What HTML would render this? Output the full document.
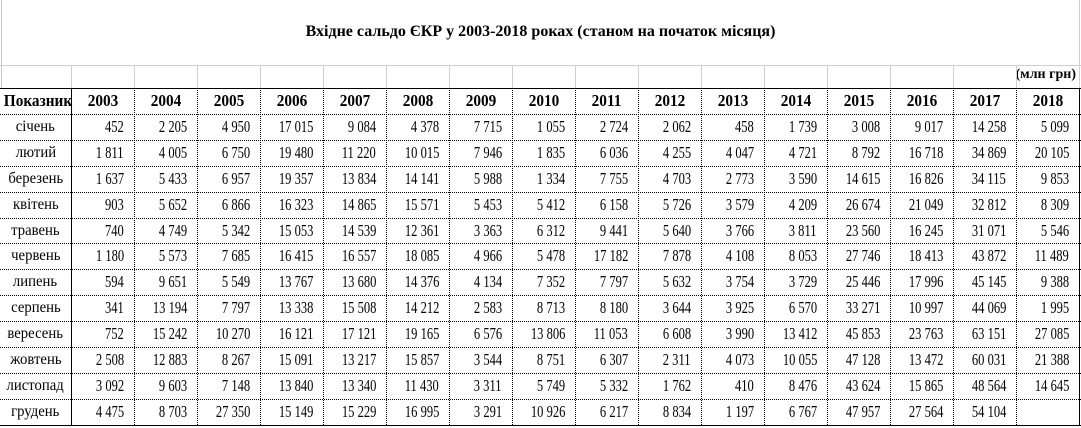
<!DOCTYPE html>
<html><head><meta charset="utf-8"><style>
body{margin:0;background:#fff;width:1081px;height:428px;overflow:hidden;position:relative;font-family:"Liberation Serif",serif;color:#000}
.c{position:absolute;box-sizing:border-box;font-size:16.5px;line-height:26px;white-space:nowrap}
.c span{display:inline-block}
.h{font-weight:bold;font-size:17px;text-align:center}
.h span{transform:scaleX(0.9)}
.n{text-align:right;padding-right:10px}
.n span{transform:scaleX(0.76);transform-origin:right center}
.m{text-align:center;font-size:16px}
.m span{transform:scaleX(0.92)}
.vl{position:absolute;width:0}
.hl{position:absolute;height:0}
</style></head><body>
<div style="position:absolute;left:0;width:1081px;top:23px;text-align:center;font-weight:bold;font-size:16px">Вхідне сальдо ЄКР у 2003-2018 роках (станом на початок місяця)</div>
<div style="position:absolute;right:5px;top:67px;font-weight:bold;font-size:14px">(млн грн)</div>
<div id="t"></div>
<script>
const years=["2003","2004","2005","2006","2007","2008","2009","2010","2011","2012","2013","2014","2015","2016","2017","2018"];
const months=["січень","лютий","березень","квітень","травень","червень","липень","серпень","вересень","жовтень","листопад","грудень"];
const r1=["452","2 205","4 950","17 015","9 084","4 378","7 715","1 055","2 724","2 062","458","1 739","3 008","9 017","14 258","5 099"];
const r2=["1 811","4 005","6 750","19 480","11 220","10 015","7 946","1 835","6 036","4 255","4 047","4 721","8 792","16 718","34 869","20 105"];
const r3=["1 637","5 433","6 957","19 357","13 834","14 141","5 988","1 334","7 755","4 703","2 773","3 590","14 615","16 826","34 115","9 853"];
const r4=["903","5 652","6 866","16 323","14 865","15 571","5 453","5 412","6 158","5 726","3 579","4 209","26 674","21 049","32 812","8 309"];
const r5=["740","4 749","5 342","15 053","14 539","12 361","3 363","6 312","9 441","5 640","3 766","3 811","23 560","16 245","31 071","5 546"];
const r6=["1 180","5 573","7 685","16 415","16 557","18 085","4 966","5 478","17 182","7 878","4 108","8 053","27 746","18 413","43 872","11 489"];
const r7=["594","9 651","5 549","13 767","13 680","14 376","4 134","7 352","7 797","5 632","3 754","3 729","25 446","17 996","45 145","9 388"];
const r8=["341","13 194","7 797","13 338","15 508","14 212","2 583","8 713","8 180","3 644","3 925","6 570","33 271","10 997","44 069","1 995"];
const r9=["752","15 242","10 270","16 121","17 121","19 165","6 576","13 806","11 053","6 608","3 990","13 412","45 853","23 763","63 151","27 085"];
const r10=["2 508","12 883","8 267","15 091","13 217","15 857","3 544","8 751","6 307","2 311","4 073","10 055","47 128","13 472","60 031","21 388"];
const r11=["3 092","9 603","7 148","13 840","13 340","11 430","3 311","5 749","5 332","1 762","410","8 476","43 624","15 865","48 564","14 645"];
const r12=["4 475","8 703","27 350","15 149","15 229","16 995","3 291","10 926","6 217","8 834","1 197","6 767","47 957","27 564","54 104",""];
const rows=[r1,r2,r3,r4,r5,r6,r7,r8,r9,r10,r11,r12];
const T=document.getElementById('t');
const X0=71,CW=63,Y0=88,RH=25.9;
function cell(x,y,w,txt,cls,name){const d=document.createElement('div');d.className='c '+cls;d.style.left=x+'px';d.style.top=y+'px';d.style.width=w+'px';
const s=document.createElement('span');s.textContent=txt;d.appendChild(s);


T.appendChild(d);}
function line(cls,x,y,len,style,name){const d=document.createElement('div');d.className=cls;d.style.left=x+'px';d.style.top=y+'px';
if(cls==='vl'){d.style.height=len+'px';d.style.borderLeft=style;}else{d.style.width=len+'px';d.style.borderTop=style;}


T.appendChild(d);}
line('hl',0,65,1081,'1px solid #d0d0d0','grid-line');
line('vl',1,0,88,'1px solid #c8c8c8','grid-line');
line('vl',1079,0,88,'1px solid #d0d0d0','grid-line');
for(let i=0;i<=15;i++)line('vl',X0+i*CW,65,23,'1px solid #d0d0d0','grid-line');
cell(0,Y0,72,'Показник','h','header-indicator');
years.forEach((y,i)=>cell(X0+i*CW,Y0,CW,y,'h','header-year'));
months.forEach((m,r)=>{const y=Y0+RH*(r+1);cell(0,y,X0,m,'m','month-label');
rows[r].forEach((v,i)=>cell(X0+i*CW,y,CW,v,'n','value-cell'));});
line('hl',0,Y0,1081,'1px solid #000','table-top-border');
for(let r=1;r<=12;r++)line('hl',0,Math.round(Y0+RH*r),1081,'1px dotted #000','row-line');
line('hl',0,425,1081,'1px solid #000','table-bottom-border');
line('vl',X0,Y0,337,'1px solid #000','first-col-border');
for(let i=1;i<16;i++)line('vl',X0+i*CW,Y0,337,'1px dotted #000','col-line');
line('vl',1079,Y0,337,'1px solid #000','table-right-border');
</script>
</body></html>
